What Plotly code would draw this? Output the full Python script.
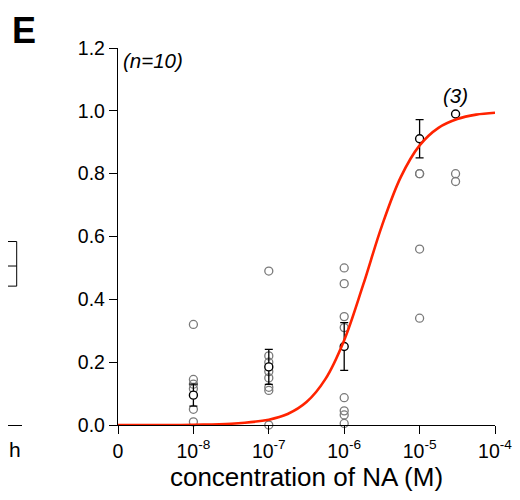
import math
import plotly.graph_objects as go

# ---- data ----
ind_conc = [1e-8] * 6 + [1e-7] * 8 + [1e-6] * 8 + [1e-5] * 4 + [3e-5] * 2
ind_resp = [0.32, 0.145, 0.13, 0.115, 0.05, 0.01,
            0.49, 0.22, 0.20, 0.17, 0.15, 0.12, 0.11, 0.0,
            0.50, 0.45, 0.345, 0.31, 0.087, 0.045, 0.032, 0.005,
            0.80, 0.80, 0.56, 0.34,
            0.80, 0.775]

mean_conc = [1e-8, 1e-7, 1e-6, 1e-5, 3e-5]
mean_resp = [0.095, 0.185, 0.25, 0.911, 0.99]
mean_sem = [0.035, 0.056, 0.076, 0.061, 0.0]

curve_log_conc = [-9, -8, -7.5, -7, -6.75, -6.5, -6.25, -6, -5.75, -5.5,
                  -5.25, -5, -4.75, -4.5, -4.25, -4]
curve_resp = [0.0, 0.001, 0.004, 0.017, 0.035, 0.073, 0.146, 0.27, 0.445,
              0.634, 0.789, 0.89, 0.946, 0.974, 0.988, 0.994]

tick_vals = [1e-9, 1e-8, 1e-7, 1e-6, 1e-5, 1e-4]
tick_text = ["0", "10<sup>-8</sup>", "10<sup>-7</sup>", "10<sup>-6</sup>",
             "10<sup>-5</sup>", "10<sup>-4</sup>"]
y_ticks = [0, 0.2, 0.4, 0.6, 0.8, 1.0, 1.2]

# neighbouring panel fragment (box plot)
nb_q1 = [0.442]
nb_median = [0.506]
nb_q3 = [0.584]
nb_low = [0.252]
nb_up = [0.626]

FONT = "Liberation Sans, Arial, sans-serif"
RED = "rgb(255,35,0)"

fig = go.Figure()

fig.add_trace(go.Box(
    x=[0], q1=nb_q1, median=nb_median, q3=nb_q3,
    lowerfence=nb_low, upperfence=nb_up,
    width=56, whiskerwidth=0.5, boxpoints=False,
    line=dict(color="black", width=1), fillcolor="white",
    xaxis="x2", yaxis="y2", showlegend=False, hoverinfo="skip"))

fig.add_trace(go.Scatter(
    x=ind_conc, y=ind_resp, mode="markers", cliponaxis=False,
    marker=dict(symbol="circle-open", size=8, color="#7a7a7a",
                line=dict(width=1.3, color="#7a7a7a")),
    showlegend=False))

fig.add_trace(go.Scatter(
    x=mean_conc, y=mean_resp, mode="markers", cliponaxis=False,
    marker=dict(symbol="circle", size=8, color="white",
                line=dict(width=1.4, color="black")),
    error_y=dict(type="data", array=mean_sem, visible=True,
                 color="black", thickness=1.3, width=4),
    showlegend=False))

fig.add_trace(go.Scatter(
    x=[10 ** v for v in curve_log_conc], y=curve_resp, mode="lines",
    line=dict(color=RED, width=2.6, shape="spline"), cliponaxis=False,
    showlegend=False))

fig.update_layout(
    width=520, height=500,
    margin=dict(l=0, r=20, t=40, b=83),
    paper_bgcolor="white", plot_bgcolor="white",
    font=dict(family=FONT, color="black"),
    xaxis=dict(type="log", range=[-9, -4], domain=[110 / 500, 487 / 500],
               tickvals=tick_vals, ticktext=tick_text,
               ticks="outside", ticklen=8, tickwidth=1.3, tickcolor="black",
               showline=True, linecolor="black", linewidth=1.3,
               showgrid=False, zeroline=False, automargin=False,
               tickfont=dict(size=19.5, family=FONT),
               title=dict(text="concentration of NA (M)",
                          font=dict(size=26, family=FONT), standoff=4),
               anchor="y"),
    yaxis=dict(range=[0, 1.2], tickvals=y_ticks, tickformat=".1f",
               ticks="outside", ticklen=8, tickwidth=1.3, tickcolor="black",
               showline=True, linecolor="black", linewidth=1.3,
               showgrid=False, zeroline=False, automargin=False,
               tickfont=dict(size=19.5, family=FONT), anchor="x"),
    xaxis2=dict(domain=[0, 14 / 500], range=[19.3, 33.3], anchor="y2",
                showline=True, linecolor="black", linewidth=1.3,
                showticklabels=False, ticks="", showgrid=False,
                zeroline=False, automargin=False),
    yaxis2=dict(domain=[0, 1], range=[0, 1.2], anchor="x2", visible=False),
    annotations=[
        dict(text="<b>E</b>", xref="paper", yref="paper", x=0.032, y=1.104,
             showarrow=False, font=dict(size=36, family=FONT),
             xanchor="center", yanchor="top", borderpad=0),
        dict(text="<i>(n=10)</i>", xref="x", yref="y", x=-8.965, y=1.16,
             showarrow=False, font=dict(size=20.5, family=FONT),
             xanchor="left", yanchor="middle"),
        dict(text="<i>(3)</i>", xref="x", yref="y", x=math.log10(3e-5),
             y=1.05, showarrow=False, font=dict(size=20.5, family=FONT),
             xanchor="center", yanchor="middle"),
        dict(text="h", xref="paper", yref="paper", x=0.0, y=-0.066,
             showarrow=False, font=dict(size=21, family=FONT),
             xanchor="left", yanchor="middle", borderpad=0),
    ],
)

fig.write_html("out.html")
